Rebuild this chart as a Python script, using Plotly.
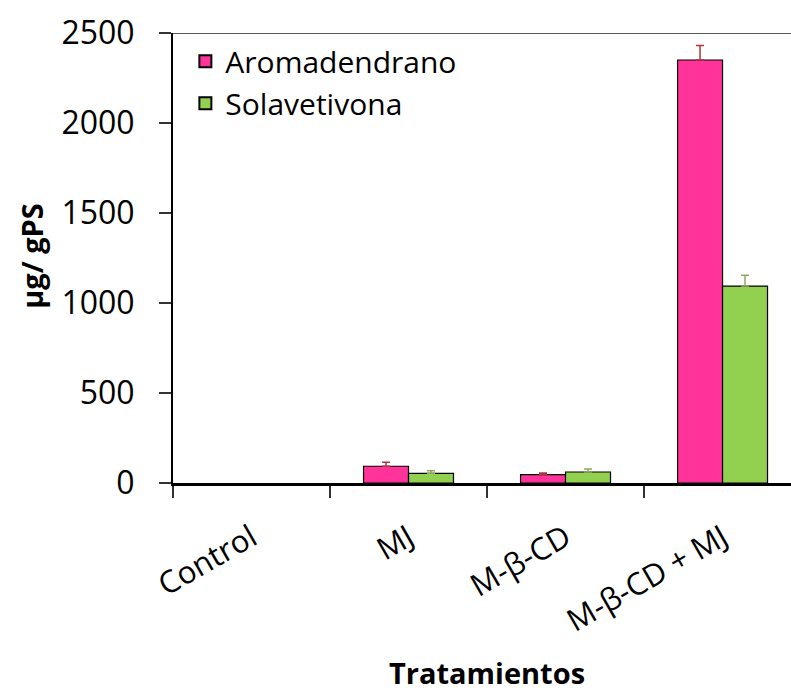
import plotly.graph_objects as go

# Treatments on the x axis
categories = ["Control", "MJ", "M-β-CD", "M-β-CD + MJ"]

# Sesquiterpene content (µg / g dry weight) and upper standard errors
aromadendrano = [0, 93, 47, 2350]
aromadendrano_err = [0, 22, 8, 80]
solavetivona = [0, 54, 61, 1094]
solavetivona_err = [0, 14, 17, 60]

y_ticks = [0, 500, 1000, 1500, 2000, 2500]

FONT = "Open Sans"


def nonzero(values):
    # empty bars (and their error caps) are left undrawn
    return [v if v > 0 else None for v in values]


fig = go.Figure()

fig.add_trace(go.Bar(
    name="Aromadendrano",
    x=categories,
    y=nonzero(aromadendrano),
    marker=dict(color="#FF3399", line=dict(color="black", width=1.2)),
    error_y=dict(type="data", array=aromadendrano_err,
                 symmetric=False, arrayminus=[0] * len(categories),
                 color="#B0343C", thickness=1.5, width=4),
))
fig.add_trace(go.Bar(
    name="Solavetivona",
    x=categories,
    y=nonzero(solavetivona),
    marker=dict(color="#92D050", line=dict(color="black", width=1.2)),
    error_y=dict(type="data", array=solavetivona_err,
                 symmetric=False, arrayminus=[0] * len(categories),
                 color="#8FA860", thickness=1.5, width=4),
))

# frame line along the top of the plot area
fig.add_shape(type="line", xref="paper", yref="y", x0=0, x1=1,
              y0=y_ticks[-1], y1=y_ticks[-1],
              line=dict(color="#222222", width=1.5))

# axis titles
fig.add_annotation(text="<b>µg/ gPS</b>", xref="paper", yref="paper",
                   x=-0.228, y=0.505, textangle=-90, showarrow=False,
                   font=dict(family=FONT, size=29, color="black"),
                   xanchor="center", yanchor="middle")
fig.add_annotation(text="<b>Tratamientos</b>", xref="paper", yref="paper",
                   x=0.508, y=-0.42, showarrow=False,
                   font=dict(family=FONT, size=29, color="black"),
                   xanchor="center", yanchor="middle")

fig.update_layout(
    width=791, height=692,
    margin=dict(l=173, r=0, t=33, b=209, autoexpand=False),
    paper_bgcolor="white", plot_bgcolor="white",
    barmode="group", bargap=0.427, bargroupgap=0,
    font=dict(family=FONT, size=30, color="black"),
    legend=dict(x=0.02, y=0.995, xanchor="left", yanchor="top",
                bgcolor="rgba(0,0,0,0)",
                font=dict(family=FONT, size=30, color="black"),
                tracegroupgap=0, itemsizing="constant"),
    showlegend=True,
)

fig.update_xaxes(
    type="category", range=[-0.5, 3.436],
    tickson="boundaries", ticks="outside", ticklen=12, tickwidth=1.5,
    tickcolor="#333333", tickangle=-30, ticklabelstandoff=22,
    showline=True, linecolor="black", linewidth=2.5,
    showgrid=False, zeroline=False,
    tickfont=dict(family=FONT, size=31, color="black"),
)
fig.update_yaxes(
    range=[0, 2500], tickvals=y_ticks,
    ticks="outside", ticklen=12, tickwidth=1.5, tickcolor="#333333",
    ticklabelstandoff=18,
    showline=True, linecolor="black", linewidth=2,
    showgrid=False, zeroline=False,
    tickfont=dict(family=FONT, size=32, color="black"),
)

fig.write_html("out.html")
